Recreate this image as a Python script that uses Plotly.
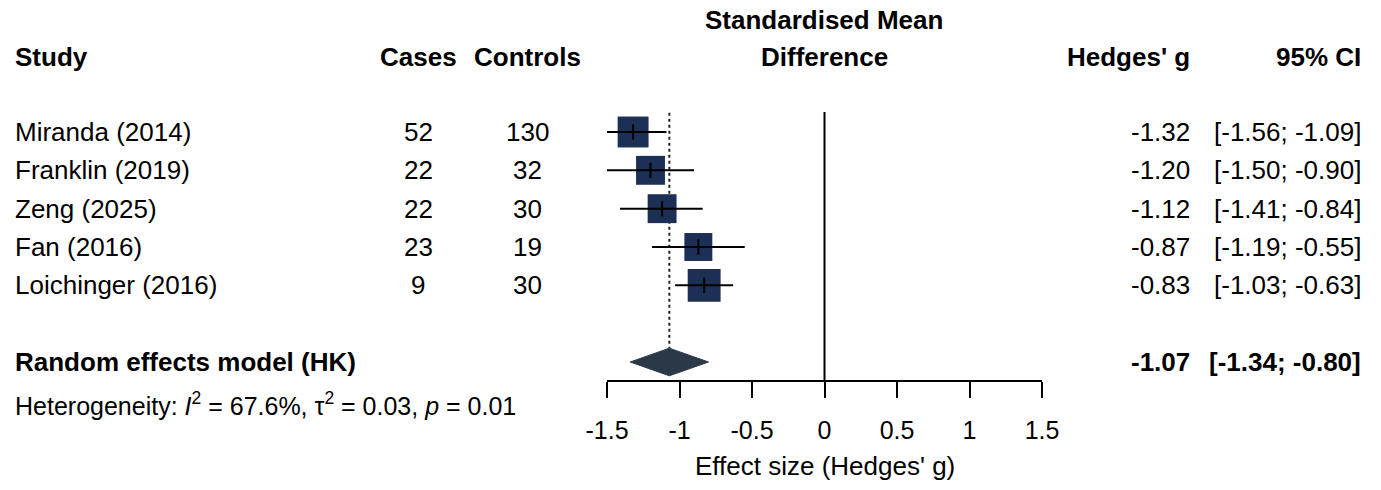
import plotly.graph_objects as go
import numpy as np

# ---- data ----
studies = ["Miranda (2014)", "Franklin (2019)", "Zeng (2025)", "Fan (2016)", "Loichinger (2016)"]
cases = [52, 22, 22, 23, 9]
controls = [130, 32, 30, 19, 30]
g = [-1.32, -1.20, -1.12, -0.87, -0.83]
ci_lo = [-1.56, -1.50, -1.41, -1.19, -1.03]
ci_hi = [-1.09, -0.90, -0.84, -0.55, -0.63]
weights = [21.3, 18.6, 18.6, 17.4, 24.1]
pooled_label = "Random effects model (HK)"
pooled_g = -1.07
pooled_lo = -1.34
pooled_hi = -0.80
het_text = "Heterogeneity: <i>I</i><sup>2</sup> = 67.6%, \u03c4<sup>2</sup> = 0.03, <i>p</i> = 0.01"
tick_vals = [-1.5, -1, -0.5, 0, 0.5, 1, 1.5]
tick_text = ["-1.5", "-1", "-0.5", "0", "0.5", "1", "1.5"]

W, H = 1381, 490
OFF = 8                      # page body margin
Wf, Hf = W - 2 * OFF, H - 2 * OFF
FONT = "Liberation Sans, Arial, sans-serif"
FS = 26
SQ = "#1c2f54"
DIA = "#2a3848"

rows = list(range(len(studies)))
pooled_row = len(studies) + 1
header_row = -1.95
title_row = -2.93
het_row = pooled_row + 1.1

fig = go.Figure()

# reference lines
fig.add_trace(go.Scatter(x=[0, 0], y=[-0.52, pooled_row + 0.5], mode="lines",
                         line=dict(color="black", width=2), hoverinfo="skip"))
fig.add_trace(go.Scatter(x=[pooled_g, pooled_g], y=[-0.5, pooled_row - 0.36], mode="lines",
                         line=dict(color="#222222", width=2, dash="dot"), hoverinfo="skip"))

# squares
sizes = [67 * np.sqrt(w / 100) for w in weights]
fig.add_trace(go.Scatter(x=g, y=rows, mode="markers", opacity=1,
                         marker=dict(symbol="square", size=sizes, color=SQ, opacity=1,
                                     line=dict(width=0)),
                         hoverinfo="skip"))
# CI lines
cx, cy = [], []
for lo, hi, r in zip(ci_lo, ci_hi, rows):
    cx += [lo, hi, None]
    cy += [r, r, None]
fig.add_trace(go.Scatter(x=cx, y=cy, mode="lines", line=dict(color="black", width=2), hoverinfo="skip"))
# estimate ticks
fig.add_trace(go.Scatter(x=g, y=rows, mode="markers",
                         marker=dict(symbol="line-ns", size=11, color="black",
                                     line=dict(color="black", width=2)),
                         hoverinfo="skip"))
# diamond
dh = 0.36
fig.add_trace(go.Scatter(x=[pooled_lo, pooled_g, pooled_hi, pooled_g, pooled_lo],
                         y=[pooled_row, pooled_row - dh, pooled_row, pooled_row + dh, pooled_row],
                         mode="lines", fill="toself", fillcolor=DIA, line=dict(color=DIA, width=1),
                         hoverinfo="skip"))

ann = []
def px(xref_px):
    return (xref_px - OFF) / Wf

def add(text, xpx, y, anchor, bold=False, size=FS):
    ann.append(dict(text=f"<b>{text}</b>" if bold else text, x=px(xpx), xref="paper",
                    y=y, yref="y", xanchor=anchor, yanchor="middle", showarrow=False,
                    font=dict(family=FONT, size=size, color="black")))

# headers
add("Study", 13, header_row, "left", True)
add("Cases", 418, header_row, "center", True)
add("Controls", 527, header_row, "center", True)
add("Standardised Mean", 824, title_row, "center", True)
add("Difference", 824, header_row, "center", True)
add("Hedges' g", 1192, header_row, "right", True)
add("95% CI", 1363, header_row, "right", True)

for i, r in enumerate(rows):
    add(studies[i], 13, r, "left")
    add(str(cases[i]), 418, r, "center")
    add(str(controls[i]), 527, r, "center")
    add(f"{g[i]:.2f}", 1192, r, "right")
    add(f"[{ci_lo[i]:.2f}; {ci_hi[i]:.2f}]", 1363, r, "right")

add(pooled_label, 13, pooled_row, "left", True)
add(f"{pooled_g:.2f}", 1192, pooled_row, "right", True)
add(f"[{pooled_lo:.2f}; {pooled_hi:.2f}]", 1363, pooled_row, "right", True)
add(het_text, 13, het_row, "left", size=25)

# axis title
ann.append(dict(text="Effect size (Hedges' g)", x=0, xref="x", y=8.72, yref="y",
                xanchor="center", yanchor="middle", showarrow=False,
                font=dict(family=FONT, size=FS, color="black")))

row_px = 38.333
row0_px = 132
y_top = (OFF - row0_px) / row_px
y_bot = (OFF + Hf - row0_px) / row_px
axis_row = pooled_row + 0.5
axis_pos = 1 - (row0_px + axis_row * row_px - OFF) / Hf

fig.update_layout(
    template="none",
    width=Wf, height=Hf, margin=dict(l=0, r=0, t=0, b=0, pad=0, autoexpand=False),
    paper_bgcolor="white", plot_bgcolor="white", showlegend=False,
    annotations=ann,
    xaxis=dict(domain=[px(607), px(1042)], range=[-1.5, 1.5], anchor="free", position=axis_pos,
               showline=True, linecolor="black", linewidth=2, ticks="outside", ticklen=16,
               tickwidth=2, tickcolor="black", tickvals=tick_vals, ticktext=tick_text,
               showgrid=False, zeroline=False, ticklabelstandoff=11, automargin=False,
               tickfont=dict(family=FONT, size=25, color="black")),
    yaxis=dict(domain=[0, 1], range=[y_bot, y_top], visible=False, showgrid=False,
               zeroline=False, automargin=False),
)

fig.write_html("out.html")
